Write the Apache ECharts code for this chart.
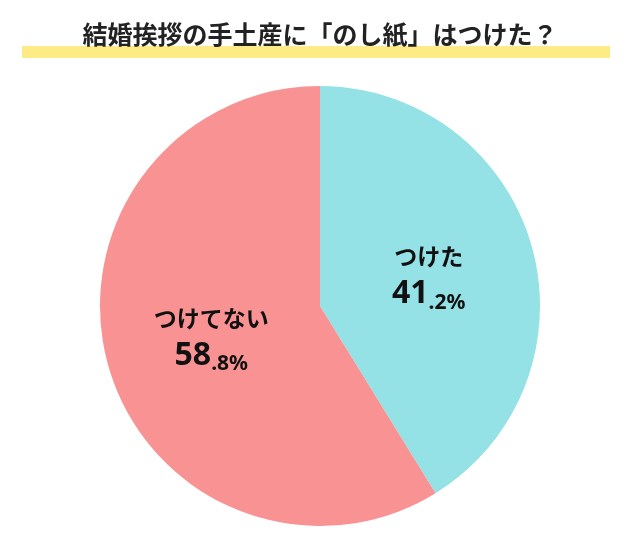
<!DOCTYPE html>
<html><head><meta charset="utf-8">
<script src="https://cdn.jsdelivr.net/npm/echarts@6/dist/echarts.min.js"></script>
<style>html,body{margin:0;padding:0;background:#fff}#c{width:640px;height:559px}</style>
</head><body><div id="c"></div>
<script>
const categories = ['つけた', 'つけてない'];
const values = [41.2, 58.8];
const colors = ['#94E1E6', '#F99292'];
const chart = echarts.init(document.getElementById('c'));
chart.setOption({
  animation: false,
  graphic: [
    {type: 'rect', shape: {x: 22, y: 46, width: 588, height: 12}, style: {fill: '#FDEB85'}, z: 0},
    {type: 'text', left: 'center', top: 22, z: 10,
     style: {text: '結婚挨拶の手土産に「のし紙」はつけた？', font: 'bold 25px "Noto Sans CJK JP"', fill: '#222', letterSpacing: 1}}
  ],
  series: [{
    type: 'pie', center: [320, 306], radius: 220, startAngle: 90, clockwise: true,
    label: {
      position: 'inside', color: '#111', lineHeight: 36,
      formatter: p => {
        const s = p.value.toFixed(1).split('.');
        return '{n|' + p.name + '}\n{b|' + s[0] + '}{s|.' + s[1] + '%}';
      },
      rich: {
        n: {fontSize: 23, fontWeight: 'bold', fontFamily: 'Noto Sans CJK JP', color: '#111', lineHeight: 38},
        b: {fontSize: 32, fontWeight: 'bold', fontFamily: 'Noto Sans', color: '#111', lineHeight: 38},
        s: {fontSize: 21, fontWeight: 'bold', fontFamily: 'Noto Sans', color: '#111', lineHeight: 38, verticalAlign: 'bottom'}
      }
    },
    labelLine: {show: false},
    itemStyle: {borderWidth: 0},
    data: categories.map((c, i) => ({name: c, value: values[i], itemStyle: {color: colors[i]}}))
  }]
});
</script></body></html>
